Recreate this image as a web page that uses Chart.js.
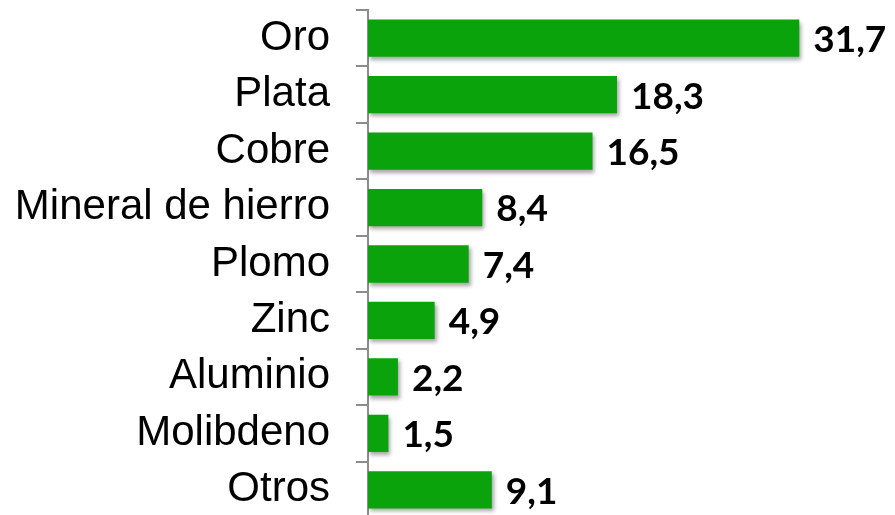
<!DOCTYPE html>
<html lang="es">
<head>
  <meta charset="UTF-8">
  <title>Producción minera por metal</title>
  <style>
    html, body {
      margin: 0;
      padding: 0;
      background: #ffffff;
      overflow: hidden;
    }
    .wrap {
      position: relative;
      width: 895px;
      height: 528px;
    }
  </style>
  <script src="https://cdn.jsdelivr.net/npm/chart.js"></script>
</head>
<body>
  <div class="wrap">
    <canvas id="mineralChart"></canvas>
  </div>

  <script>
    // categories and values (percent share)
    const metals = ['Oro', 'Plata', 'Cobre', 'Mineral de hierro', 'Plomo', 'Zinc', 'Aluminio', 'Molibdeno', 'Otros'];
    const shares = [31.7, 18.3, 16.5, 8.4, 7.4, 4.9, 2.2, 1.5, 9.1];

    // drop shadow under the bars
    const barShadow = {
      id: 'barShadow',
      beforeDatasetDraw(chart) {
        const ctx = chart.ctx;
        ctx.save();
        ctx.shadowColor = 'rgba(0, 0, 0, 0.35)';
        ctx.shadowBlur = 4;
        ctx.shadowOffsetX = 2;
        ctx.shadowOffsetY = 3;
      },
      afterDatasetDraw(chart) {
        chart.ctx.restore();
      }
    };

    // value labels at the end of each bar, with comma decimals
    const valueLabels = {
      id: 'valueLabels',
      afterDatasetsDraw(chart) {
        const ctx = chart.ctx;
        const meta = chart.getDatasetMeta(0);
        ctx.save();
        ctx.font = 'bold 37px Lato, "Open Sans", sans-serif';
        ctx.fillStyle = '#000000';
        ctx.textAlign = 'left';
        ctx.textBaseline = 'middle';
        meta.data.forEach((bar, i) => {
          const txt = shares[i].toFixed(1).replace('.', ',');
          ctx.fillText(txt, bar.x + 14, bar.y + 2);
        });
        ctx.restore();
      }
    };

    const ctx = document.getElementById('mineralChart').getContext('2d');
    const chart = new Chart(ctx, {
      type: 'bar',
      data: {
        labels: metals,
        datasets: [{
          data: shares,
          backgroundColor: '#0ba30b',
          borderWidth: 0,
          categoryPercentage: 0.66,
          barPercentage: 1.0
        }]
      },
      options: {
        indexAxis: 'y',
        responsive: true,
        maintainAspectRatio: false,
        animation: false,
        layout: {
          padding: { top: 10, right: 10, bottom: 10, left: 0 }
        },
        plugins: {
          legend: { display: false },
          tooltip: { enabled: false }
        },
        scales: {
          x: {
            display: false,
            min: 0,
            max: 38
          },
          y: {
            afterFit(scale) {
              scale.width = 368;
              // no extra room above/below for the big labels
              scale.paddingTop = 0;
              scale.paddingBottom = 0;
            },
            border: {
              display: true,
              color: '#8c8c8c',
              width: 2
            },
            grid: {
              offset: true,
              drawOnChartArea: false,
              drawTicks: true,
              tickLength: 12,
              color: '#8c8c8c',
              lineWidth: 2
            },
            ticks: {
              padding: 26,
              color: '#000000',
              font: {
                family: '"Liberation Sans", Arial, sans-serif',
                size: 42
              }
            }
          }
        }
      },
      plugins: [barShadow, valueLabels]
    });
  </script>
</body>
</html>
